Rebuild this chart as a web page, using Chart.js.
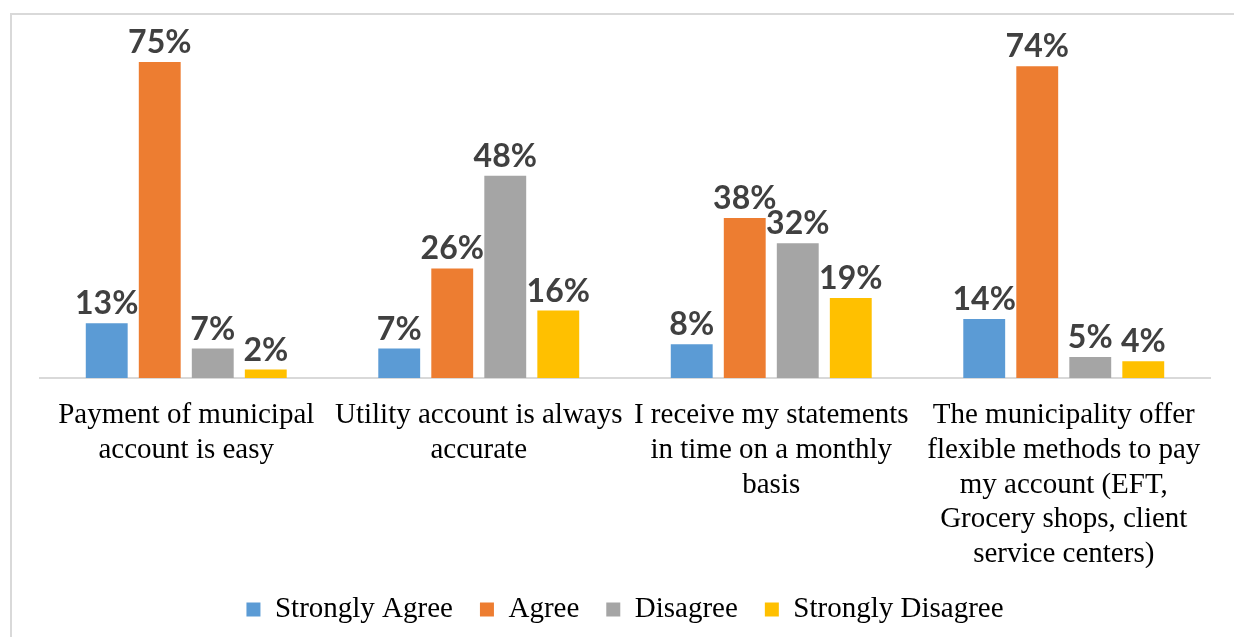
<!DOCTYPE html>
<html>
<head>
<meta charset="utf-8">
<script src="https://cdn.jsdelivr.net/npm/chart.js@4"></script>
<style>
  html, body { margin: 0; padding: 0; background: #fff; }
  #frame {
    position: absolute; left: 10px; top: 13px; right: -10px; bottom: -10px;
    border-left: 2px solid #d9d9d9; border-top: 2px solid #d9d9d9;
  }
  #wrap { position: absolute; left: 0; top: 0; width: 1234px; height: 637px; }
</style>
</head>
<body>
<div id="frame"></div>
<div id="wrap"><canvas id="grafico"></canvas></div>
<script>
// categorias e respostas (%)
const categorias = [
  ["Payment of municipal", "account is easy"],
  ["Utility account is always", "accurate"],
  ["I receive my statements", "in time on a monthly", "basis"],
  ["The municipality offer", "flexible methods to pay", "my account (EFT,", "Grocery shops, client", "service centers)"]
];
const series = ["Strongly Agree", "Agree", "Disagree", "Strongly Disagree"];
const cores = ["#5B9BD5", "#ED7D31", "#A5A5A5", "#FFC000"];
const stronglyAgree = [13, 7, 8, 14];
const agree = [75, 26, 38, 74];
const disagree = [7, 48, 32, 5];
const stronglyDisagree = [2, 16, 19, 4];
const valores = [stronglyAgree, agree, disagree, stronglyDisagree];

// rótulos de porcentagem acima das barras
const rotulos = {
  id: "rotulos",
  afterDatasetsDraw(chart) {
    const ctx = chart.ctx;
    ctx.save();
    ctx.font = "bold 32px Lato";
    ctx.fillStyle = "#404040";
    ctx.textAlign = "center";
    ctx.textBaseline = "alphabetic";
    chart.data.datasets.forEach((ds, i) => {
      chart.getDatasetMeta(i).data.forEach((bar, j) => {
        ctx.fillText(ds.data[j] + "%", bar.x, bar.y - 9);
      });
    });
    ctx.restore();
  }
};

new Chart(document.getElementById("grafico"), {
  type: "bar",
  data: {
    labels: categorias,
    datasets: series.map((nome, i) => ({
      label: nome,
      data: valores[i],
      backgroundColor: cores[i],
      categoryPercentage: 0.725,
      barPercentage: 0.79
    }))
  },
  options: {
    responsive: true,
    maintainAspectRatio: false,
    animation: false,
    layout: { padding: { top: 41, left: 40, right: 24, bottom: 3 } },
    plugins: {
      tooltip: { enabled: false },
      legend: {
        position: "bottom",
        labels: {
          boxWidth: 14,
          boxHeight: 14,
          padding: 27,
          color: "#000",
          font: { family: "'Liberation Serif', 'Times New Roman', serif", size: 29 }
        }
      }
    },
    scales: {
      x: {
        grid: { display: false },
        border: { display: true, color: "#d9d9d9", width: 2 },
        ticks: {
          color: "#000",
          padding: 12,
          maxRotation: 0,
          autoSkip: false,
          font: { family: "'Liberation Serif', 'Times New Roman', serif", size: 29, lineHeight: 1.2 }
        },
        afterFit(scale) { scale.height = 190; }
      },
      y: {
        display: false,
        min: 0,
        max: 80
      }
    }
  },
  plugins: [rotulos]
});
</script>
</body>
</html>
